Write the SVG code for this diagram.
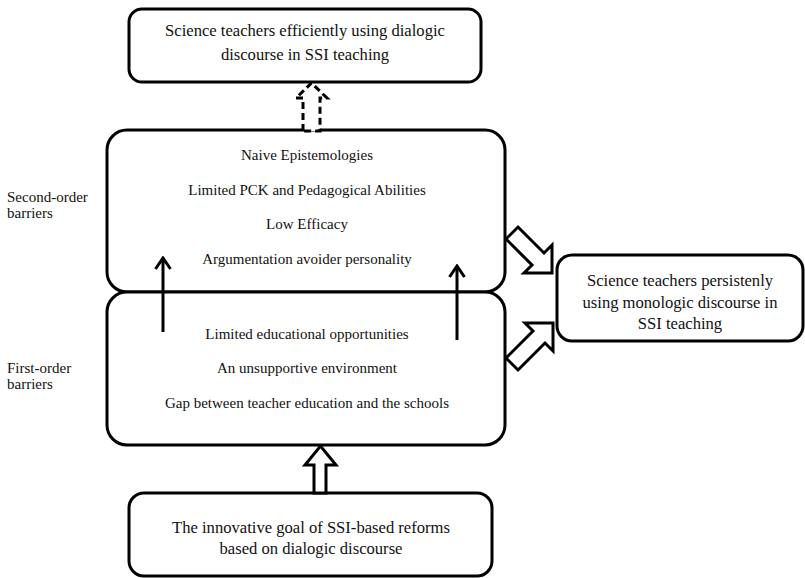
<svg xmlns="http://www.w3.org/2000/svg" width="805" height="578" viewBox="0 0 805 578">
  <style>
    .box { fill: #ffffff; stroke: #000000; stroke-width: 3; }
    .txt { font-family: "Liberation Serif", "Times New Roman", serif; fill: #111111; text-anchor: middle; }
    .big { font-size: 16.6px; }
    .mid { font-size: 15px; }
    .side { font-family: "Liberation Serif", "Times New Roman", serif; font-size: 15px; fill: #111111; }
    .hollow { fill: #ffffff; stroke: #000000; stroke-width: 3; stroke-linejoin: miter; }
    .dashed { stroke-dasharray: 7 4; }
    .thin { fill: none; stroke: #000000; stroke-width: 3; }
  </style>
  <defs>
    <marker id="chevron" markerUnits="userSpaceOnUse" viewBox="0 0 14 18" refX="11" refY="9" markerWidth="14" markerHeight="18" orient="auto">
      <path d="M1,1.5 L12,9 L1,16.5" fill="none" stroke="#000000" stroke-width="3"/>
    </marker>
  </defs>

  <rect width="805" height="578" fill="#ffffff"/>

  <!-- side labels -->
  <g id="label-second-order">
    <text class="side" x="7" y="202">Second-order</text>
    <text class="side" x="7" y="218">barriers</text>
  </g>
  <g id="label-first-order">
    <text class="side" x="7" y="373">First-order</text>
    <text class="side" x="7" y="389">barriers</text>
  </g>

  <!-- goal: dialogic discourse -->
  <g id="dialogic-goal">
    <rect class="box" x="129" y="9" width="352" height="73" rx="13"/>
    <text class="txt big" x="305" y="36">Science teachers efficiently using dialogic</text>
    <text class="txt big" x="305" y="60">discourse in SSI teaching</text>
  </g>

  <!-- second-order barriers -->
  <g id="second-order">
    <rect class="box" x="107" y="130" width="398" height="162" rx="20"/>
    <text class="txt mid" x="307" y="160">Naive Epistemologies</text>
    <text class="txt mid" x="307" y="195">Limited PCK and Pedagogical Abilities</text>
    <text class="txt mid" x="307" y="229">Low Efficacy</text>
    <text class="txt mid" x="307" y="264">Argumentation avoider personality</text>
  </g>

  <!-- first-order barriers -->
  <g id="first-order">
    <rect class="box" x="107" y="292" width="398" height="153" rx="20"/>
    <text class="txt mid" x="307" y="339">Limited educational opportunities</text>
    <text class="txt mid" x="307" y="373">An unsupportive environment</text>
    <text class="txt mid" x="307" y="408">Gap between teacher education and the schools</text>
  </g>

  <!-- outcome: monologic discourse -->
  <g id="monologic-outcome">
    <rect class="box" x="557" y="255" width="246" height="86" rx="15"/>
    <text class="txt big" x="680" y="286">Science teachers persistenly</text>
    <text class="txt big" x="680" y="307.5">using monologic discourse in</text>
    <text class="txt big" x="680" y="329">SSI teaching</text>
  </g>

  <!-- reform goal -->
  <g id="reform-goal">
    <rect class="box" x="129" y="493" width="363" height="83" rx="15"/>
    <text class="txt big" x="311" y="533">The innovative goal of SSI-based reforms</text>
    <text class="txt big" x="311" y="554">based on dialogic discourse</text>
  </g>

  <!-- connectors -->
  <g id="connectors">
    <!-- dashed hollow arrow up to the dialogic goal -->
    <polygon class="hollow dashed" points="303,131 303,98 296,98 311.5,83 327,98 320,98 320,131"/>
    <!-- hollow arrow up from reform goal -->
    <polygon class="hollow" points="314,493 314,465 305,465 320.5,446 336,465 326,465 326,493"/>
    <!-- first-order to second-order thin arrows -->
    <line class="thin" x1="163" y1="332" x2="163" y2="259" marker-end="url(#chevron)"/>
    <line class="thin" x1="457" y1="340" x2="457" y2="267" marker-end="url(#chevron)"/>
    <!-- hollow diagonal arrows to monologic outcome -->
    <polygon class="hollow" points="552,273 524,273 532,265 506,239 518,227 544,253 552,245"/>
    <polygon class="hollow" points="553,323 553,351 545,343 518,370 506,358 533,331 525,323"/>
  </g>
</svg>
